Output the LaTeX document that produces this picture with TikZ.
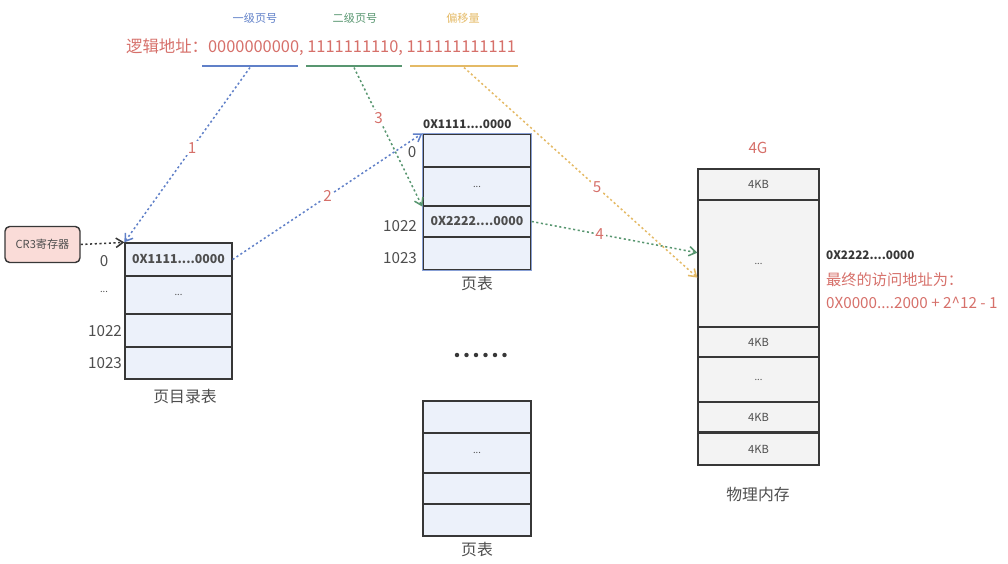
\documentclass[tikz,border=0pt]{standalone}
\usepackage{fontspec}
\setmainfont{Noto Sans CJK SC}
\usetikzlibrary{arrows.meta}

\definecolor{addrred}{RGB}{214,112,106}
\definecolor{lvlblue}{RGB}{96,128,200}
\definecolor{lvlgreen}{RGB}{88,150,112}
\definecolor{lvlorange}{RGB}{228,186,102}
\definecolor{tblfill}{RGB}{236,241,250}
\definecolor{memfill}{RGB}{243,243,243}
\definecolor{cellline}{RGB}{55,55,55}
\definecolor{txtgray}{RGB}{78,78,78}
\definecolor{cregfill}{RGB}{250,220,216}

\tikzset{
  cell/.style={draw=cellline, rectangle, line width=1.1pt, inner sep=0pt, fill=tblfill, text=txtgray, font=\fontsize{10.5}{12}\selectfont},
  memcell/.style={cell, fill=memfill, font=\fontsize{9.5}{11}\selectfont},
  hdr/.style={font=\fontsize{9.5}{11}\selectfont},
  addr/.style={text=addrred, font=\fontsize{14}{16}\selectfont},
  uline/.style={rectangle, inner sep=0pt, minimum height=2.2pt},
  idx/.style={text=txtgray, font=\fontsize{13}{15}\selectfont},
  caption/.style={text=txtgray, font=\fontsize{13.5}{16}\selectfont},
  num/.style={text=addrred, fill=white, inner sep=1.5pt, font=\fontsize{13}{15}\selectfont},
  link/.style={line width=1.3pt, dash pattern=on 1.8pt off 2.2pt, -{Straight Barb[length=6pt, width=8pt]}},
  creg/.style={draw=cellline, fill=cregfill, rounded corners=4pt, line width=1.2pt, text=txtgray, font=\fontsize{9.5}{11}\selectfont}
}

\begin{document}
\begin{tikzpicture}[x=0.03cm, y=-0.03cm]
    \useasboundingbox (0,0) rectangle (1008,564);

    \node[hdr, text=lvlblue] (h1) at (255,18) {一级页号};
    \node[hdr, text=lvlgreen] (h2) at (355,18) {二级页号};
    \node[hdr, text=lvlorange] (h3) at (463,18) {偏移量};
    \node[addr] (laddr) at (321,47) {逻辑地址：0000000000, 1111111110, 111111111111};
    \node[uline, fill=lvlblue, minimum width=96*0.03cm] (u1) at (250,66) {};
    \node[uline, fill=lvlgreen, minimum width=96*0.03cm] (u2) at (354,66) {};
    \node[uline, fill=lvlorange, minimum width=108*0.03cm] (u3) at (464,66) {};

    \node[creg, minimum width=75*0.03cm, minimum height=36*0.03cm] (cr3) at (42.5,244.5) {CR3寄存器};

    \foreach \nm/\y/\h/\txt in {pd0/259.5/33/{\textbf{0X1111....0000}}, pd1/295/38/{\footnotesize ...}, pd2/330.5/33/{}, pd3/363/32/{}}{
        \node[cell, minimum width=107*0.03cm, minimum height=\h*0.03cm] (\nm) at (178.5,\y) {\txt};
    }
    \node[idx] (pdi0) at (104,261) {0};
    \node[idx] (pdi1) at (104,292) {\footnotesize ...};
    \node[idx] (pdi2) at (105,331) {1022};
    \node[idx] (pdi3) at (105,363) {1023};
    \node[caption] (pdcap) at (185,397) {页目录表};

    \foreach \nm/\y/\h/\txt in {pa0/150.5/33/{}, pa1/186.5/39/{\footnotesize ...}, pa2/221.5/31/{\textbf{0X2222....0000}}, pa3/253.5/33/{}}{
        \node[cell, minimum width=108*0.03cm, minimum height=\h*0.03cm] (\nm) at (477,\y) {\txt};
    }
    \draw[line width=1.1pt, lvlblue!75] (pa0.north west) rectangle (pa3.south east);
    \node[text=cellline, font=\fontsize{10}{12}\selectfont\bfseries, anchor=west] (paaddr) at (419,124) {0X1111....0000};
    \node[idx] (pai0) at (412,152) {0};
    \node[idx] (pai2) at (400,226) {1022};
    \node[idx] (pai3) at (400,258) {1023};
    \node[caption] (pacap) at (477,284) {页表};

    \foreach \i in {0,...,5}{
        \fill[cellline] (457+\i*9.5,355) circle[radius=1.9pt];
    }

    \foreach \nm/\y/\h/\txt in {pb0/417/32/{}, pb1/453/40/{\footnotesize ...}, pb2/488.5/31/{}, pb3/520/32/{}}{
        \node[cell, minimum width=108*0.03cm, minimum height=\h*0.03cm] (\nm) at (477,\y) {\txt};
    }
    \node[caption] (pbcap) at (477,550) {页表};

    \foreach \nm/\y/\h/\txt in {m0/184.5/31/4KB, m1/263.5/127/{\footnotesize ...}, m2/342/30/4KB, m3/379.5/45/{\footnotesize ...}, m4/417.5/31/4KB, m5/449/32/4KB}{
        \node[memcell, minimum width=121*0.03cm, minimum height=\h*0.03cm] (\nm) at (758.5,\y) {\txt};
    }
    \draw[line width=2.4pt, cellline] (m5.north west) -- (m5.north east);
    \node[addr, font=\fontsize{13}{15}\selectfont] (memtop) at (758,148) {4G};
    \node[caption] (memcap) at (758,495) {物理内存};
    \node[text=cellline, font=\fontsize{10}{12}\selectfont\bfseries, anchor=west] (paddr) at (822,255) {0X2222....0000};
    \node[addr, font=\fontsize{13}{15}\selectfont, anchor=west] (fin1) at (822,280) {最终的访问地址为：};
    \node[addr, font=\fontsize{13}{15}\selectfont, anchor=west] (fin2) at (822,303) {0X0000....2000 + 2\^{}12 - 1};

    \draw[link, cellline] (cr3.east) -- (pd0.north west);
    \draw[link, lvlblue] (u1.south) -- node[num, pos=0.46] {1} (pd0.north west);
    \draw[link, lvlblue] (pd0.east) -- node[num, pos=0.5] {2} (pa0.north west);
    \draw[link, lvlgreen] (u2.south) -- node[num, pos=0.36] {3} (pa1.south west);
    \draw[link, lvlgreen] (pa2.east) -- node[num, pos=0.41] {4} (m1.170);
    \draw[link, lvlorange] (u3.south) -- node[num, pos=0.57] {5} (m1.193);
\end{tikzpicture}
\end{document}
